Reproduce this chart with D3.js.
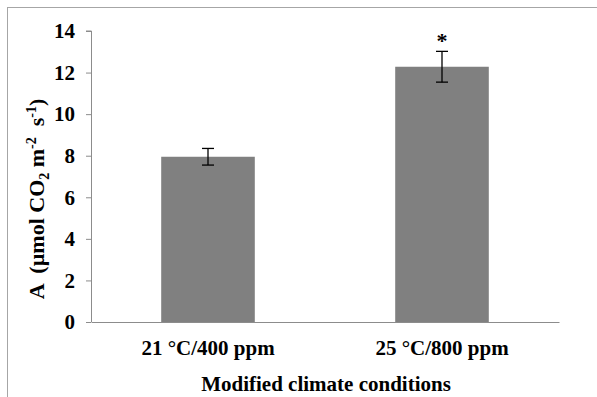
<!DOCTYPE html>
<html><head><meta charset="utf-8">
<script src="https://cdn.jsdelivr.net/npm/d3@7"></script>
<style>
html,body{margin:0;padding:0;background:#fff;}
svg{display:block;}
text{font-family:"Liberation Serif","Times New Roman",serif;font-weight:bold;fill:#000;white-space:pre;}
</style></head>
<body>
<svg id="chart" width="597" height="397"></svg>
<script>
const categories = ["21 °C/400 ppm", "25 °C/800 ppm"];
const values = [7.95, 12.28];
const errors = [0.40, 0.74];
const significance = ["", "*"];
const yTicks = [0, 2, 4, 6, 8, 10, 12, 14];

const svg = d3.select("#chart");
const W = 597, H = 397;
const m = {left: 91, right: 38, top: 31, bottom: 75};
const FS = "21px";

svg.append("rect").attr("x", 7.5).attr("y", 7.5).attr("width", 800).attr("height", 600)
  .attr("fill", "none").attr("stroke", "#a6a6a6").attr("stroke-width", 1);

const x = d3.scaleBand().domain(categories).range([m.left, W - m.right]).paddingInner(0.6).paddingOuter(0.3);
const y = d3.scaleLinear().domain([0, 14]).range([H - m.bottom, m.top]);

// bars
svg.selectAll("rect.bar").data(categories).enter().append("rect").attr("class", "bar")
  .attr("x", d => x(d)).attr("width", x.bandwidth())
  .attr("y", (d, i) => y(values[i])).attr("height", (d, i) => y(0) - y(values[i]))
  .attr("fill", "#808080");

// y axis
const ya = svg.append("g").attr("transform", `translate(${m.left},0)`)
  .call(d3.axisLeft(y).tickValues(yTicks).tickSize(5).tickPadding(11).tickFormat(d3.format("d")));
ya.selectAll("path,line").attr("stroke", "#8c8c8c");
ya.select("path").attr("d", `M-5,${y(14)}H0.5V${y(0)}`);
ya.selectAll("text").style("font-size", FS).style("font-family", "Liberation Serif").style("font-weight", "bold").attr("fill", "#000");

// x axis
const xa = svg.append("g").attr("transform", `translate(0,${y(0)})`)
  .call(d3.axisBottom(x).tickSize(0).tickPadding(18));
xa.select("path").attr("stroke", "#8c8c8c");
xa.selectAll("text").style("font-size", FS).style("font-family", "Liberation Serif").style("font-weight", "bold").attr("fill", "#000");

// error bars
const cap = 6;
const eb = svg.append("g").attr("stroke", "#000").attr("stroke-width", 1.3);
categories.forEach((c, i) => {
  const cx = x(c) + x.bandwidth() / 2;
  const t = y(values[i] + errors[i]), b = y(values[i] - errors[i]);
  eb.append("line").attr("x1", cx).attr("x2", cx).attr("y1", t).attr("y2", b);
  eb.append("line").attr("x1", cx - cap).attr("x2", cx + cap).attr("y1", t).attr("y2", t);
  eb.append("line").attr("x1", cx - cap).attr("x2", cx + cap).attr("y1", b).attr("y2", b);
  if (significance[i]) {
    svg.append("text").attr("x", cx).attr("y", t - 3).attr("text-anchor", "middle")
      .style("font-size", "22px").text(significance[i]);
  }
});

// x title
svg.append("text").attr("x", (m.left + W - m.right) / 2 + 1).attr("y", 391).attr("text-anchor", "middle")
  .style("font-size", FS).text("Modified climate conditions");

// y title
const yt = svg.append("text").attr("transform", "translate(44,199) rotate(-90)").attr("text-anchor", "middle")
  .style("font-size", "22px");
yt.append("tspan").text("A  (µmol CO");
yt.append("tspan").text("2").attr("dy", 5).style("font-size", "14px");
yt.append("tspan").text(" m").attr("dy", -5);
yt.append("tspan").text("-2").attr("dy", -8).style("font-size", "14px");
yt.append("tspan").text("  s").attr("dy", 8);
yt.append("tspan").text("-1").attr("dy", -8).style("font-size", "14px");
yt.append("tspan").text(")").attr("dy", 8);
</script>
</body></html>
